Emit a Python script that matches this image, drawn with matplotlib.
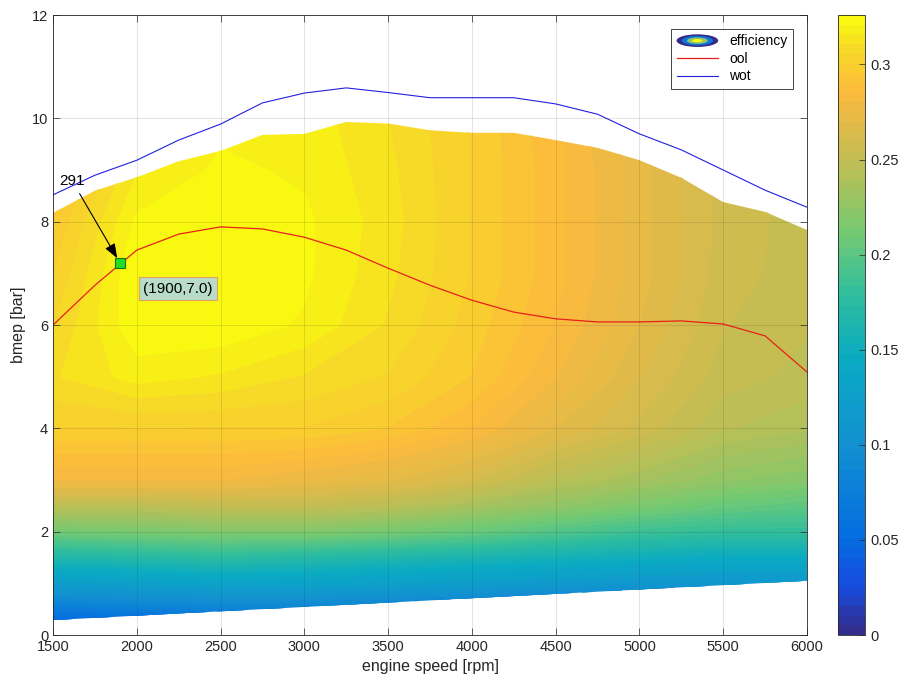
import numpy as np
import matplotlib
matplotlib.use("Agg")
import matplotlib.pyplot as plt
from matplotlib.colors import LinearSegmentedColormap
from matplotlib.patches import Polygon, Ellipse, Patch
from matplotlib.legend_handler import HandlerBase
from matplotlib.lines import Line2D

plt.rcParams['font.family'] = ['Liberation Sans', 'DejaVu Sans']

# --- data ---
speed_grid = [1500, 2000, 2500, 3000, 3500, 4000, 4500, 5000, 5500, 6000]
bmep_grid = [0.0, 0.5, 1.0, 1.5, 2.0, 2.5, 3.0, 4.0, 5.0, 6.0, 7.0, 8.0, 9.0, 10.5]
efficiency = [
    [0.020, 0.020, 0.020, 0.020, 0.020, 0.020, 0.020, 0.020, 0.020, 0.020],
    [0.070, 0.075, 0.080, 0.080, 0.075, 0.070, 0.060, 0.050, 0.040, 0.030],
    [0.120, 0.125, 0.130, 0.130, 0.125, 0.120, 0.115, 0.110, 0.110, 0.110],
    [0.165, 0.170, 0.175, 0.170, 0.165, 0.160, 0.155, 0.150, 0.145, 0.145],
    [0.210, 0.213, 0.217, 0.217, 0.212, 0.205, 0.195, 0.185, 0.180, 0.180],
    [0.245, 0.245, 0.250, 0.250, 0.245, 0.235, 0.225, 0.215, 0.205, 0.200],
    [0.280, 0.280, 0.280, 0.275, 0.270, 0.260, 0.245, 0.235, 0.225, 0.220],
    [0.300, 0.300, 0.300, 0.300, 0.295, 0.285, 0.270, 0.258, 0.245, 0.240],
    [0.310, 0.318, 0.315, 0.310, 0.305, 0.295, 0.280, 0.265, 0.252, 0.248],
    [0.305, 0.325, 0.325, 0.320, 0.310, 0.298, 0.285, 0.270, 0.255, 0.250],
    [0.300, 0.326, 0.326, 0.322, 0.312, 0.300, 0.287, 0.272, 0.257, 0.252],
    [0.295, 0.322, 0.325, 0.322, 0.313, 0.300, 0.287, 0.272, 0.258, 0.252],
    [0.290, 0.315, 0.322, 0.320, 0.312, 0.300, 0.287, 0.272, 0.258, 0.250],
    [0.285, 0.310, 0.318, 0.318, 0.310, 0.300, 0.285, 0.270, 0.255, 0.250],
]

speed_line = [1500, 1750, 2000, 2250, 2500, 2750, 3000, 3250, 3500, 3750,
              4000, 4250, 4500, 4750, 5000, 5250, 5500, 5750, 6000]
wot = [8.52, 8.90, 9.19, 9.58, 9.89, 10.30, 10.49, 10.59, 10.50, 10.40,
       10.40, 10.40, 10.28, 10.08, 9.70, 9.39, 9.00, 8.61, 8.28]
ool = [6.00, 6.77, 7.45, 7.76, 7.90, 7.86, 7.70, 7.45, 7.10, 6.77,
       6.48, 6.25, 6.12, 6.06, 6.06, 6.08, 6.02, 5.79, 5.09]
map_top = [8.17, 8.60, 8.86, 9.17, 9.37, 9.68, 9.70, 9.93, 9.90, 9.77,
           9.72, 9.72, 9.58, 9.43, 9.19, 8.85, 8.38, 8.19, 7.84]
map_bottom_speed = [1500, 6000]
map_bottom = [0.29, 1.05]

point_speed, point_bmep = 1900, 7.2

# parula-like colormap
parula_pts = [
    (0.00, (0.208, 0.166, 0.529)),
    (0.08, (0.090, 0.300, 0.880)),
    (0.16, (0.010, 0.430, 0.880)),
    (0.30, (0.070, 0.560, 0.820)),
    (0.45, (0.040, 0.670, 0.760)),
    (0.55, (0.180, 0.740, 0.620)),
    (0.65, (0.450, 0.790, 0.450)),
    (0.75, (0.720, 0.750, 0.340)),
    (0.82, (0.870, 0.730, 0.290)),
    (0.88, (0.990, 0.730, 0.240)),
    (0.94, (0.970, 0.840, 0.160)),
    (1.00, (0.976, 0.983, 0.054)),
]
parula = LinearSegmentedColormap.from_list('parula', parula_pts)

fig = plt.figure(figsize=(9.02, 6.84), dpi=100)
ax = fig.add_axes([0.0588, 0.0716, 0.8359, 0.9064])
cax = fig.add_axes([0.929, 0.0716, 0.030, 0.9064])

X, Y = np.meshgrid(speed_grid, bmep_grid)
levels = np.linspace(0, 0.326, 65)
cs = ax.contourf(X, Y, np.array(efficiency), levels=levels, cmap=parula,
                 vmin=0, vmax=0.326)
cs.set_edgecolor('face')
cs.set_linewidth(0.5)

# clip map to the measured region
poly_x = list(speed_line) + map_bottom_speed[::-1]
poly_y = list(map_top) + map_bottom[::-1]
clip = Polygon(np.column_stack([poly_x, poly_y]), closed=True,
               transform=ax.transData, facecolor='none', edgecolor='none')
ax.add_patch(clip)
cs.set_clip_path(clip)

ax.plot(speed_line, ool, color='#e8201a', lw=0.9)
ax.plot(speed_line, wot, color='#2020e0', lw=0.8)

ax.plot([point_speed], [point_bmep], marker='s', ms=6.5, mfc='#22dd22',
        mec='#117711', mew=0.8, zorder=5)
ax.annotate('291', xy=(point_speed, point_bmep), xytext=(1540, 8.78),
            fontsize=11, ha='left', va='center',
            arrowprops=dict(arrowstyle='-|>,head_length=0.8,head_width=0.3',
                            color='black', lw=0.8, shrinkA=2, shrinkB=4))
ax.text(2246, 6.7, '(1900,7.0)', fontsize=11, ha='center', va='center',
        bbox=dict(boxstyle='square,pad=0.3', fc='#b8dcc8', ec='#e0a060', lw=0.8))

ax.set_xlim(1500, 6000)
ax.set_ylim(0, 12)
ax.set_xticks(np.arange(1500, 6001, 500))
ax.set_yticks(np.arange(0, 13, 2))
ax.set_xlabel('engine speed [rpm]', fontsize=11.5, color='#262626')
ax.set_ylabel('bmep [bar]', fontsize=11.5, color='#262626')
ax.grid(True, color='#262626', alpha=0.15, lw=0.6)
ax.set_axisbelow(False)
ax.tick_params(direction='in', length=5, width=0.5, top=True, right=True,
               labelsize=10.5, colors='#262626')
for s in ax.spines.values():
    s.set_linewidth(0.6)
    s.set_color('#262626')


class HandlerRings(HandlerBase):
    def create_artists(self, legend, orig_handle, xdescent, ydescent,
                       width, height, fontsize, trans):
        cx = width / 2 - xdescent
        cy = height / 2 - ydescent
        arts = []
        for frac, v in zip([1.0, 0.75, 0.5, 0.25], [0.0, 0.2, 0.7, 1.0]):
            arts.append(Ellipse((cx, cy), width * frac, height * 1.3 * frac,
                                facecolor=parula(v), edgecolor='none',
                                transform=trans))
        return arts


eff_proxy = Patch(label='efficiency')
h_ool = Line2D([], [], color='#e8201a', lw=0.9, label='ool')
h_wot = Line2D([], [], color='#2020e0', lw=0.8, label='wot')
leg = ax.legend(handles=[eff_proxy, h_ool, h_wot], loc='upper right',
                handler_map={eff_proxy: HandlerRings()}, fontsize=10,
                handlelength=3.0, fancybox=False, framealpha=1,
                edgecolor='#262626', borderaxespad=1.0, labelspacing=0.25,
                bbox_to_anchor=(1.0, 1.0))
leg.get_frame().set_linewidth(0.6)

cb = fig.colorbar(cs, cax=cax, ticks=np.arange(0, 0.31, 0.05))
cb.ax.set_yticklabels(['0', '0.05', '0.1', '0.15', '0.2', '0.25', '0.3'])
cb.ax.tick_params(direction='in', length=4, width=0.5, labelsize=10.5, colors='#262626')
cb.outline.set_linewidth(0.6)
cb.outline.set_edgecolor('#262626')

fig.savefig('out.png', dpi=100)
